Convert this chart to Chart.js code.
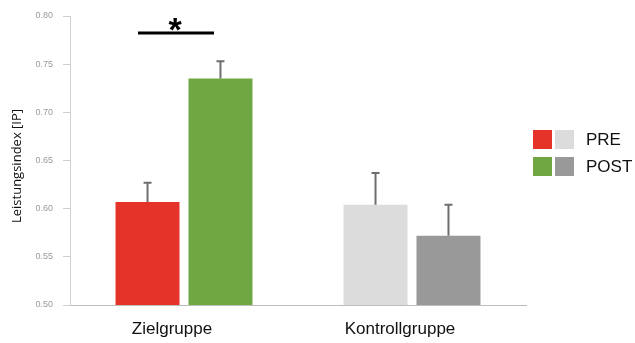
<!DOCTYPE html>
<html>
<head>
<meta charset="utf-8">
<script src="https://cdn.jsdelivr.net/npm/chart.js@4/dist/chart.umd.min.js"></script>
<style>
  html, body { margin: 0; padding: 0; background: #fff; }
  #wrap { position: relative; width: 635px; height: 343px; }
</style>
</head>
<body>
<div id="wrap"><canvas id="c" width="635" height="343"></canvas></div>
<script>
// Gruppen und Messzeitpunkte
const groups = ['Zielgruppe', 'Kontrollgruppe'];
const seriesNames = ['PRE', 'POST'];
const yTitle = 'Leistungsindex [IP]';

// Mittelwerte des Leistungsindex
const preValues = [0.607, 0.604];
const postValues = [0.735, 0.572];

// Standardabweichungen (nur nach oben gezeichnet)
const preErrors = [0.020, 0.033];
const postErrors = [0.018, 0.032];

// Farben: Zielgruppe farbig, Kontrollgruppe grau
const preColors = ['#e5332a', '#dcdcdc'];
const postColors = ['#70a743', '#999999'];

// y-Achse
const yMin = 0.50, yMax = 0.80, yStep = 0.05;

// Fehlerbalken nach oben
const errorBars = {
  id: 'errorBars',
  afterDatasetsDraw(chart) {
    const ctx = chart.ctx;
    const y = chart.scales.y;
    const errs = [preErrors, postErrors];
    chart.data.datasets.forEach((ds, di) => {
      chart.getDatasetMeta(di).data.forEach((bar, i) => {
        const top = y.getPixelForValue(ds.data[i] + errs[di][i]);
        ctx.save();
        ctx.strokeStyle = '#6e6e6e';
        ctx.lineWidth = 2;
        ctx.beginPath();
        ctx.moveTo(bar.x, bar.y);
        ctx.lineTo(bar.x, top);
        ctx.moveTo(bar.x - 4, top);
        ctx.lineTo(bar.x + 4, top);
        ctx.stroke();
        ctx.restore();
      });
    });
  }
};

// Signifikanzmarkierung über der Zielgruppe
const significance = {
  id: 'significance',
  afterDraw(chart) {
    const ctx = chart.ctx;
    const x = chart.scales.x;
    const cx = x.getPixelForValue(0);
    ctx.save();
    ctx.strokeStyle = '#000';
    ctx.lineWidth = 3;
    ctx.beginPath();
    ctx.moveTo(cx - 46, 33);
    ctx.lineTo(cx + 30, 33);
    ctx.stroke();
    ctx.fillStyle = '#000';
    ctx.font = 'bold 34px "Liberation Sans", Arial, sans-serif';
    ctx.textAlign = 'center';
    ctx.textBaseline = 'middle';
    ctx.fillText('*', cx - 9, 32);
    ctx.restore();
  }
};

// Achsentitel der y-Achse, senkrecht
const yAxisTitle = {
  id: 'yAxisTitle',
  afterDraw(chart) {
    const ctx = chart.ctx;
    ctx.save();
    ctx.translate(17, 166);
    ctx.rotate(-Math.PI / 2);
    ctx.font = '13px "Open Sans", sans-serif';
    ctx.fillStyle = '#111';
    ctx.textAlign = 'center';
    ctx.textBaseline = 'middle';
    ctx.fillText(yTitle, 0, 0);
    ctx.restore();
  }
};

// Legende mit je zwei Farbfeldern pro Zeitpunkt
const pairLegend = {
  id: 'pairLegend',
  afterDraw(chart) {
    const ctx = chart.ctx;
    const rows = [[preColors, seriesNames[0], 130], [postColors, seriesNames[1], 157]];
    ctx.save();
    ctx.font = '17px "Liberation Sans", Arial, sans-serif';
    ctx.textBaseline = 'middle';
    rows.forEach(([cols, label, top]) => {
      ctx.fillStyle = cols[0];
      ctx.fillRect(533, top, 19, 19);
      ctx.fillStyle = cols[1];
      ctx.fillRect(555, top, 19, 19);
      ctx.fillStyle = '#111';
      ctx.fillText(label, 586, top + 10);
    });
    ctx.restore();
  }
};

new Chart(document.getElementById('c'), {
  type: 'bar',
  data: {
    labels: groups,
    datasets: [
      { label: seriesNames[0], data: preValues, backgroundColor: preColors },
      { label: seriesNames[1], data: postValues, backgroundColor: postColors }
    ]
  },
  options: {
    responsive: false,
    animation: false,
    events: [],
    datasets: { bar: { categoryPercentage: 0.64, barPercentage: 0.877 } },
    layout: { padding: { top: 16, right: 109, bottom: 0, left: 0 } },
    plugins: { legend: { display: false }, tooltip: { enabled: false } },
    scales: {
      x: {
        grid: { display: false, drawTicks: false },
        border: { color: '#bdbdbd', width: 1 },
        ticks: {
          color: '#111', padding: 14, labelOffset: -12,
          font: { size: 17, family: '"Liberation Sans", Arial, sans-serif' }
        },
        afterFit(scale) { scale.height = 38; }
      },
      y: {
        min: yMin, max: yMax,
        grid: { drawOnChartArea: false, drawTicks: true, tickLength: 7, color: '#cfcfcf' },
        border: { color: '#cfcfcf', width: 1 },
        ticks: {
          stepSize: yStep, padding: 10, color: '#9a9a9a',
          font: { size: 9, family: '"Liberation Sans", Arial, sans-serif' },
          callback: v => v.toFixed(2)
        },
        afterFit(scale) { scale.width = 70; }
      }
    }
  },
  plugins: [errorBars, significance, yAxisTitle, pairLegend]
});
</script>
</body>
</html>
